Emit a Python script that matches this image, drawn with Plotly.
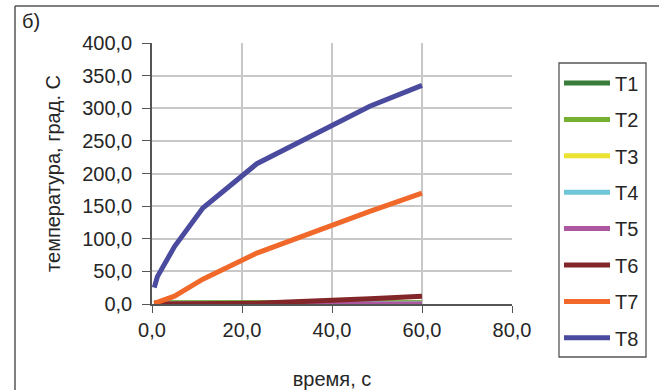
import plotly.graph_objects as go

time_s = [0.5, 1.2, 5.0, 11.3, 23.3, 48.4, 60.0]
T1 = [1.5, 1.5, 1.5, 1.5, 1.5, 1.5, 1.5]
T2 = [2.0, 2.0, 2.0, 2.0, 2.0, 2.0, 2.0]
T3 = [0.5, 0.5, 0.5, 0.5, 0.5, 0.5, 0.5]
T4 = [0.3, 0.3, 0.3, 0.3, 0.3, 0.3, 0.3]
T5 = [0.0, 0.0, 0.0, 0.0, 0.0, 0.0, 0.0]
T6 = [0.0, 0.0, 0.0, 0.0, 1.0, 8.0, 12.0]
T7 = [1.0, 3.0, 12.0, 38.0, 78.0, 142.0, 170.0]
T8 = [25.0, 42.0, 88.0, 147.0, 215.0, 303.0, 335.0]

names = ["T1", "T2", "T3", "T4", "T5", "T6", "T7", "T8"]
series = [T1, T2, T3, T4, T5, T6, T7, T8]
colors = ["#3a7d3a", "#76b030", "#ece232", "#6ec6d6", "#ad57a0", "#832629", "#f0692a", "#4a4a9e"]

x_ticks = [0, 20, 40, 60, 80]
x_tick_text = ["0,0", "20,0", "40,0", "60,0", "80,0"]
y_ticks = [0, 50, 100, 150, 200, 250, 300, 350, 400]
y_tick_text = ["0,0", "50,0", "100,0", "150,0", "200,0", "250,0", "300,0", "350,0", "400,0"]

FONT = "Liberation Sans, Arial, sans-serif"
TXT = "#262626"
LC = "#555555"

L, R, T, B = 152, 512, 43, 304
W, H = 659, 390
def px(x):
    return (x - L) / (R - L)
def py(y):
    return (B - y) / (B - T)

fig = go.Figure()
legend_layout = {}
for i, (n, s, c) in enumerate(zip(names, series, colors)):
    key = "legend" if i == 0 else f"legend{i + 1}"
    fig.add_trace(go.Scatter(x=time_s, y=s, name=n, mode="lines", legend=key,
                             line=dict(color=c, width=5)))
    legend_layout[key] = dict(x=px(559), y=py(83 + 36.4 * i), xanchor="left", yanchor="middle",
                              bgcolor="rgba(0,0,0,0)", borderwidth=0, itemwidth=46,
                              font=dict(family=FONT, size=20, color=TXT))

fig.update_layout(
    width=W, height=H,
    margin=dict(l=L, r=W - R, t=T, b=H - B, autoexpand=False),
    paper_bgcolor="white", plot_bgcolor="white",
    font=dict(family=FONT, size=20, color=TXT),
    showlegend=True,
    xaxis=dict(range=[0, 80], tickvals=x_ticks, ticktext=x_tick_text, automargin=False,
               showgrid=True, gridcolor="#c8c8c8", gridwidth=1.5,
               zeroline=False, showline=True, linecolor=LC, linewidth=1.5,
               ticks="outside", ticklen=7, tickcolor=LC,
               tickfont=dict(size=20), title=dict(text="время, с", font=dict(size=20), standoff=34)),
    yaxis=dict(range=[0, 400], tickvals=y_ticks, ticktext=y_tick_text, automargin=False,
               showgrid=True, gridcolor="#c8c8c8", gridwidth=1.5,
               zeroline=False, showline=True, linecolor=LC, linewidth=1.5,
               ticks="outside", ticklen=8, tickcolor=LC, ticklabelstandoff=6,
               tickfont=dict(size=20), title=dict(text="температура, град. С", font=dict(size=20), standoff=16)),
    shapes=[
        dict(type="line", xref="paper", yref="paper", x0=px(15), x1=px(700), y0=py(6), y1=py(6),
             line=dict(color=LC, width=1.5)),
        dict(type="line", xref="paper", yref="paper", x0=px(15), x1=px(15), y0=py(6), y1=py(420),
             line=dict(color=LC, width=1.5)),
        dict(type="rect", xref="paper", yref="paper", x0=px(559), x1=px(646), y0=py(63), y1=py(357),
             line=dict(color=LC, width=1.3), fillcolor="rgba(0,0,0,0)"),
    ],
    annotations=[
        dict(text="б)", xref="paper", yref="paper", x=px(20), y=py(8), xanchor="left", yanchor="top",
             showarrow=False, font=dict(size=20, color=TXT)),
    ],
    **legend_layout,
)

fig.write_html("out.html")
